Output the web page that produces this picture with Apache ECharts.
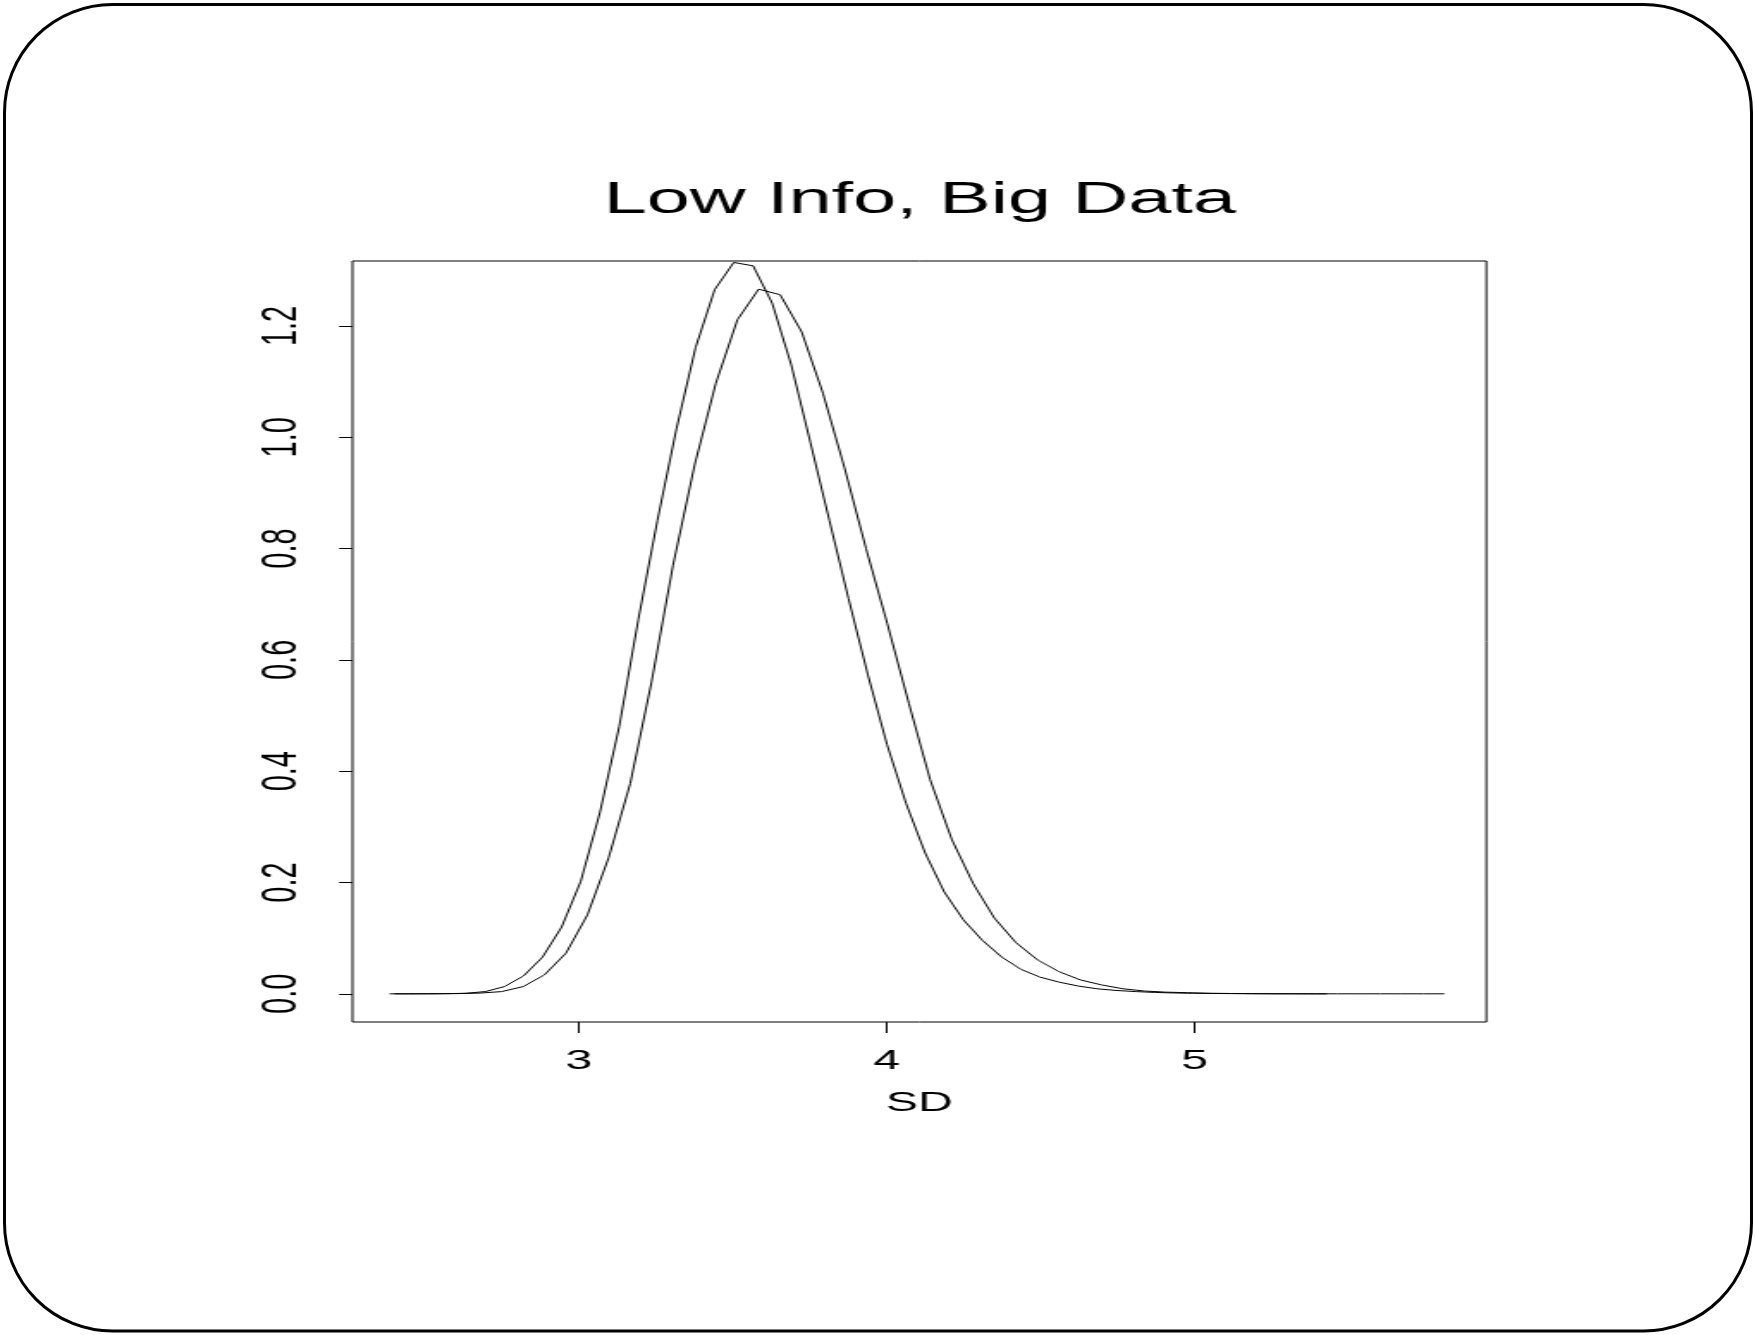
<!DOCTYPE html>
<html>
<head>
<meta charset="utf-8">
<title>Low Info, Big Data</title>
<script src="https://cdn.jsdelivr.net/npm/echarts@6/dist/echarts.min.js"></script>
<style>
  html, body { margin: 0; padding: 0; background: #fff; }
  #frame { position: absolute; left: 0; top: 0; width: 1755px; height: 1335px; }
  #plot  { position: absolute; left: 0; top: 0; height: 1335px; transform-origin: 0 0; }
</style>
</head>
<body>
<div id="frame"></div>
<div id="plot"></div>
<script>
// Density of the SD on a wide grid (plotted first: it sets the axis limits)
const sdWide = [
  2.401, 2.471, 2.540, 2.610, 2.679, 2.749, 2.819, 2.888, 2.958, 3.028,
  3.097, 3.167, 3.236, 3.306, 3.376, 3.445, 3.515, 3.584, 3.654, 3.724,
  3.793, 3.863, 3.933, 4.002, 4.072, 4.141, 4.211, 4.281, 4.350, 4.420,
  4.490, 4.559, 4.629, 4.698, 4.768, 4.838, 4.907, 4.977, 5.047, 5.116,
  5.186, 5.255, 5.325, 5.395, 5.464, 5.534, 5.603, 5.673, 5.743, 5.812
];
const densWide = [
  0.0000, 0.0000, 0.0001, 0.0004, 0.0013, 0.004, 0.013, 0.034, 0.073, 0.142,
  0.245, 0.378, 0.560, 0.770, 0.950, 1.097, 1.211, 1.266, 1.256, 1.189,
  1.079, 0.945, 0.800, 0.665, 0.522, 0.385, 0.278, 0.198, 0.136, 0.092,
  0.061, 0.040, 0.025, 0.016, 0.009, 0.005, 0.003, 0.002, 0.001, 0.0006,
  0.0003, 0.0001, 0.0001, 0.0000, 0.0000, 0.0000, 0.0000, 0.0000, 0.0000, 0.0000
];

// Density of the SD on a narrower grid (added on top)
const sdNarrow = [
  2.385, 2.447, 2.509, 2.571, 2.633, 2.696, 2.758, 2.820, 2.882, 2.944,
  3.006, 3.068, 3.131, 3.193, 3.255, 3.317, 3.379, 3.441, 3.503, 3.566,
  3.628, 3.690, 3.752, 3.814, 3.876, 3.939, 4.001, 4.063, 4.125, 4.187,
  4.249, 4.311, 4.374, 4.436, 4.498, 4.560, 4.622, 4.684, 4.746, 4.809,
  4.871, 4.933, 4.995, 5.057, 5.119, 5.182, 5.244, 5.306, 5.368, 5.430
];
const densNarrow = [
  0.0000, 0.0000, 0.0001, 0.0003, 0.0010, 0.004, 0.013, 0.032, 0.066, 0.120,
  0.202, 0.325, 0.480, 0.672, 0.850, 1.015, 1.161, 1.265, 1.314, 1.308,
  1.241, 1.130, 0.991, 0.850, 0.710, 0.573, 0.448, 0.342, 0.253, 0.183,
  0.133, 0.096, 0.066, 0.044, 0.030, 0.021, 0.014, 0.009, 0.006, 0.004,
  0.0025, 0.0015, 0.0010, 0.0006, 0.0004, 0.0002, 0.0001, 0.0000, 0.0000, 0.0000
];

const xTicks = [3, 4, 5];
const yTicks = [0, 0.2, 0.4, 0.6, 0.8, 1.0, 1.2];
const titleText = 'Low Info, Big Data';
const xName = 'SD';

// The plot is laid out on a narrower canvas and widened horizontally.
const STRETCH = 1.72;
const PAGE_W = 1755, PAGE_H = 1335;
const plotW = PAGE_W / STRETCH;

// Plot box in page pixels
const box = { left: 352.5, right: 1487, top: 261, bottom: 1022 };

// Axis limits: data range widened by 4% on each side
function padRange(arr) {
  const lo = Math.min.apply(null, arr), hi = Math.max.apply(null, arr);
  const d = (hi - lo) * 0.04;
  return [lo - d, hi + d];
}
const xLim = padRange(sdWide);
const yLim = padRange(densWide);

const plotEl = document.getElementById('plot');
plotEl.style.width = plotW + 'px';
plotEl.style.transform = 'scaleX(' + STRETCH + ')';

const FONT = '"Liberation Sans", Arial, Helvetica, sans-serif';

// Rounded page frame (not stretched)
const frame = echarts.init(document.getElementById('frame'), null, { renderer: 'canvas' });
frame.setOption({
  animation: false,
  backgroundColor: '#fff',
  graphic: [{
    type: 'rect',
    shape: { x: 4.5, y: 4.5, width: 1747, height: 1326.5, r: 108 },
    style: { fill: 'none', stroke: '#000', lineWidth: 3 }
  }]
});

const chart = echarts.init(plotEl, null, { renderer: 'canvas' });
const pairs = (xs, ys) => xs.map((x, i) => [x, ys[i]]);

chart.setOption({
  animation: false,
  backgroundColor: 'transparent',
  textStyle: { fontFamily: FONT, color: '#000' },
  grid: {
    left: box.left / STRETCH,
    right: (PAGE_W - box.right) / STRETCH,
    top: box.top,
    bottom: PAGE_H - box.bottom,
    show: true,
    borderColor: '#000',
    borderWidth: 1,
    backgroundColor: 'transparent'
  },
  graphic: [{
    type: 'text',
    x: (box.left + box.right) / 2 / STRETCH,
    y: 201,
    style: {
      text: titleText,
      font: 'normal 45px ' + FONT,
      fill: '#000',
      textAlign: 'center',
      textVerticalAlign: 'middle'
    }
  }],
  xAxis: {
    type: 'value',
    min: xLim[0],
    max: xLim[1],
    name: xName,
    nameLocation: 'middle',
    nameGap: 67,
    nameTextStyle: { fontSize: 28, color: '#000', fontFamily: FONT },
    axisLine: { show: false, onZero: false },
    splitLine: { show: false },
    axisTick: {
      show: true, inside: false, length: 11,
      customValues: xTicks,
      lineStyle: { color: '#000', width: 1 }
    },
    axisLabel: {
      customValues: xTicks,
      margin: 25,
      fontSize: 28,
      color: '#000',
      fontFamily: FONT,
      formatter: v => String(v)
    }
  },
  yAxis: {
    type: 'value',
    min: yLim[0],
    max: yLim[1],
    axisLine: { show: false, onZero: false },
    splitLine: { show: false },
    axisTick: {
      show: true, inside: false, length: 13.4 / STRETCH,
      customValues: yTicks,
      lineStyle: { color: '#000', width: 1 }
    },
    axisLabel: {
      customValues: yTicks,
      rotate: 90,
      margin: 26,
      fontSize: 29,
      color: '#000',
      fontFamily: FONT,
      formatter: v => v.toFixed(1)
    }
  },
  series: [
    {
      type: 'line',
      data: pairs(sdWide, densWide),
      showSymbol: false,
      smooth: false,
      lineStyle: { color: '#000', width: 1 },
      z: 3
    },
    {
      type: 'line',
      data: pairs(sdNarrow, densNarrow),
      showSymbol: false,
      smooth: false,
      lineStyle: { color: '#000', width: 1 },
      z: 3
    }
  ]
});
</script>
</body>
</html>
